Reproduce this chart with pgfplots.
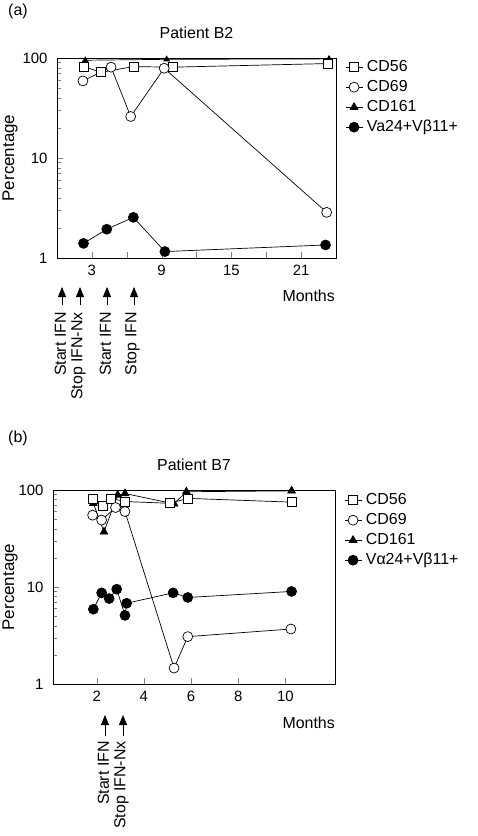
\documentclass[border=0pt]{standalone}
\usepackage{fontspec}
\setmainfont{Liberation Sans}
\usepackage{pgfplots}
\pgfplotsset{compat=1.18}
\usetikzlibrary{arrows.meta}

\tikzset{
  mysq/.style={black, line width=0.7pt, mark=square*, mark options={fill=white, solid}, mark size=4.5pt},
  myci/.style={black, line width=0.7pt, mark=*, mark options={fill=white, solid}, mark size=5pt},
  mytrs/.style={black, line width=0.7pt, mark=triangle*, mark options={fill=black, solid}, mark size=3.2pt},
  mytr/.style={black, line width=0.7pt, mark=triangle*, mark options={fill=black, solid}, mark size=4.5pt},
  myfc/.style={black, line width=0.7pt, mark=*, mark options={fill=black, solid}, mark size=5pt},
}

\begin{document}
\fontsize{16}{19}\selectfont
\begin{tikzpicture}
\useasboundingbox (0,0) rectangle (478bp,-836bp);

% ---------- Panel (a)
\begin{axis}[scale only axis, ymode=log, ymin=1, ymax=100,
    axis line style={line width=0.8pt},
    tick pos=left, tick align=inside,
    major tick length=6bp, minor tick length=4bp,
    ytick={1,10,100}, yticklabels={1,10,100},
    minor ytick={2,3,4,5,6,7,8,9,20,30,40,50,60,70,80,90},
    tick label style={font=\fontsize{15}{18}\selectfont},
    yticklabel style={xshift=-4bp},
    xticklabel style={yshift=-2bp},
    clip=false,
    legend style={draw=none, fill=none, font=\fontsize{16}{19}\selectfont,
      at={(rel axis cs:1,1)}, anchor=north west, xshift=6bp, yshift=1bp,
      nodes={inner sep=0pt, text height=12bp, text depth=4bp},
      row sep=4bp, column sep=4bp},
    legend cell align=left,
  at={(57bp,-258bp)}, anchor=south west,
  width=279bp, height=200bp, xmin=0, xmax=24,
  xtick={3,9,15,21}, xticklabels={3,9,15,21},
  extra x ticks={6,12,18}, extra x tick labels={}]
\addlegendimage{mysq}\addlegendentry{CD56}
\addlegendimage{myci}\addlegendentry{CD69}
\addlegendimage{mytr}\addlegendentry{CD161}
\addlegendimage{myfc}\addlegendentry{Va24+Vβ11+}
\addplot[mytrs, forget plot] coordinates {(2.43,95) (9.43,97) (23.4,98)};
\addplot[mysq, forget plot] coordinates {(2.28,82) (3.8,72) (6.57,82) (10.0,81) (23.3,88)};
\addplot[myci, forget plot] coordinates {(2.23,59) (4.65,81) (6.34,26) (9.22,79) (23.2,2.86)};
\addplot[myfc, forget plot] coordinates {(2.28,1.40) (4.28,1.94) (6.57,2.55) (9.28,1.16) (23.1,1.35)};
\end{axis}

\node[anchor=west, inner sep=0pt] at (8bp,-11bp) {(a)};
\node at (196.5bp,-33bp) {Patient B2};
\node[rotate=90, font=\fontsize{17}{20}\selectfont] at (10bp,-158bp) {Percentage};
\node[anchor=east, inner sep=0pt] at (335bp,-296bp) {Months};
\foreach \x/\t in {62/Start IFN, 80/Stop IFN-Nx, 107/Start IFN, 134/Stop IFN}{
  \draw[-{Triangle[length=10bp,width=8bp]}, line width=0.8pt] (\x bp,-305bp) -- (\x bp,-287bp);
  \node[rotate=90, anchor=east, inner sep=0pt] at (\x bp-1.5bp,-312bp) {\t};
}

% ---------- Panel (b)
\begin{axis}[scale only axis, ymode=log, ymin=1, ymax=100,
    axis line style={line width=0.8pt},
    tick pos=left, tick align=inside,
    major tick length=6bp, minor tick length=4bp,
    ytick={1,10,100}, yticklabels={1,10,100},
    minor ytick={2,3,4,5,6,7,8,9,20,30,40,50,60,70,80,90},
    tick label style={font=\fontsize{15}{18}\selectfont},
    yticklabel style={xshift=-4bp},
    xticklabel style={yshift=-2bp},
    clip=false,
    legend style={draw=none, fill=none, font=\fontsize{16}{19}\selectfont,
      at={(rel axis cs:1,1)}, anchor=north west, xshift=6bp, yshift=0bp,
      nodes={inner sep=0pt, text height=12bp, text depth=4bp},
      row sep=4bp, column sep=4bp},
    legend cell align=left,
  at={(53bp,-684bp)}, anchor=south west,
  width=282bp, height=194bp, xmin=0.15, xmax=12.1,
  xtick={2,4,6,8,10}, xticklabels={2,4,6,8,10}]
\addlegendimage{mysq}\addlegendentry{CD56}
\addlegendimage{myci}\addlegendentry{CD69}
\addlegendimage{mytr}\addlegendentry{CD161}
\addlegendimage{myfc}\addlegendentry{Vα24+Vβ11+}
\addplot[mytr, forget plot] coordinates {(1.86,73) (2.31,37) (2.89,89) (3.2,92) (5.28,72) (5.8,96) (10.26,98)};
\addplot[mysq, forget plot] coordinates {(1.83,82) (2.25,68) (2.61,82) (3.2,76) (5.1,73) (5.86,82) (10.26,75)};
\addplot[myci, forget plot] coordinates {(1.83,55) (2.21,49) (2.8,66) (3.2,60) (5.28,1.46) (5.86,3.08) (10.23,3.69)};
\addplot[myfc, forget plot] coordinates {(1.86,5.9) (2.21,8.7) (2.53,7.6) (2.85,9.5) (3.2,5.1) (3.27,6.8) (5.24,8.7) (5.86,7.8) (10.26,9.0)};
\end{axis}

\node[anchor=west, inner sep=0pt] at (8bp,-438bp) {(b)};
\node at (194bp,-465bp) {Patient B7};
\node[rotate=90, font=\fontsize{17}{20}\selectfont] at (10bp,-587bp) {Percentage};
\node[anchor=east, inner sep=0pt] at (335bp,-723bp) {Months};
\foreach \x/\t in {105/Start IFN, 123/Stop IFN-Nx}{
  \draw[-{Triangle[length=10bp,width=8bp]}, line width=0.8pt] (\x bp,-736bp) -- (\x bp,-715bp);
  \node[rotate=90, anchor=east, inner sep=0pt] at (\x bp-1.5bp,-741bp) {\t};
}
\end{tikzpicture}
\end{document}
